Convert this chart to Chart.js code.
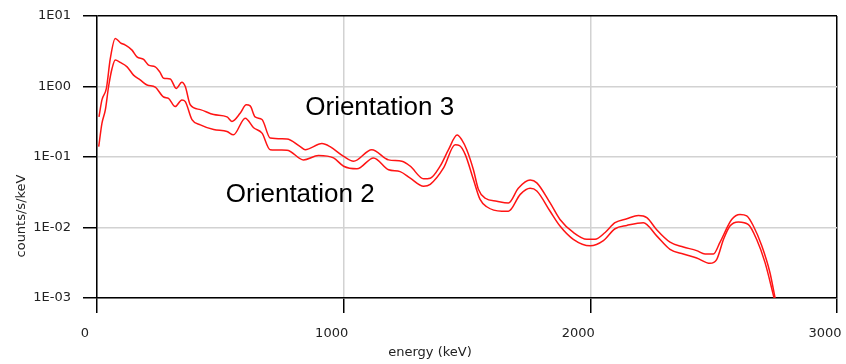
<!DOCTYPE html>
<html><head><meta charset="utf-8">
<script src="https://cdn.jsdelivr.net/npm/chart.js@4/dist/chart.umd.min.js"></script>
<style>html,body{margin:0;padding:0;background:#fff;overflow:hidden}</style>
</head><body>
<canvas id="c" width="846" height="364" style="width:846px;height:364px;display:block"></canvas>
<script>
// Orientation 3 (upper curve)
const energy3 = [8, 20, 38, 54, 74, 95, 115, 142, 162, 189, 209, 236, 255, 270, 297, 321, 344, 358, 378, 419, 473, 527, 547, 581, 605, 621, 641, 669, 702, 770, 824, 844, 912, 945, 1000, 1040, 1114, 1182, 1236, 1270, 1324, 1351, 1391, 1425, 1460, 1479, 1499, 1526, 1546, 1574, 1621, 1668, 1708, 1756, 1783, 1837, 1877, 1931, 1986, 2019, 2060, 2100, 2148, 2195, 2229, 2269, 2323, 2377, 2431, 2465, 2499, 2526, 2573, 2607, 2634, 2661, 2695, 2728, 2749];
const counts3 = [0.37, 0.645, 0.94, 2.5, 4.8, 4.17, 3.86, 3.28, 2.63, 2.42, 2.01, 1.9, 1.6, 1.31, 1.28, 0.94, 1.15, 1.0, 0.55, 0.47, 0.40, 0.37, 0.32, 0.42, 0.55, 0.53, 0.37, 0.34, 0.186, 0.18, 0.14, 0.127, 0.155, 0.14, 0.102, 0.087, 0.127, 0.091, 0.087, 0.074, 0.049, 0.05, 0.074, 0.127, 0.205, 0.175, 0.127, 0.066, 0.035, 0.026, 0.0236, 0.0223, 0.036, 0.047, 0.043, 0.0223, 0.013, 0.0085, 0.0068, 0.0068, 0.0085, 0.0117, 0.0133, 0.0148, 0.0138, 0.0093, 0.0062, 0.0053, 0.0047, 0.0042, 0.0042, 0.0062, 0.013, 0.0153, 0.0146, 0.0105, 0.0055, 0.0023, 0.001];
// Orientation 2 (lower curve)
const energy2 = [7, 20, 34, 47, 61, 74, 94, 122, 148, 175, 203, 236, 270, 290, 317, 344, 358, 385, 419, 473, 527, 553, 601, 635, 669, 702, 770, 837, 898, 959, 1000, 1054, 1121, 1182, 1229, 1270, 1324, 1351, 1405, 1452, 1470, 1493, 1526, 1553, 1580, 1641, 1668, 1716, 1756, 1783, 1837, 1877, 1931, 1999, 2053, 2100, 2148, 2215, 2269, 2323, 2377, 2431, 2485, 2512, 2540, 2566, 2600, 2641, 2674, 2708, 2745];
const counts2 = [0.14, 0.30, 0.47, 1.0, 1.8, 2.37, 2.2, 1.9, 1.45, 1.24, 1.05, 0.98, 0.71, 0.68, 0.52, 0.645, 0.61, 0.34, 0.286, 0.245, 0.23, 0.206, 0.355, 0.26, 0.218, 0.127, 0.125, 0.091, 0.105, 0.097, 0.074, 0.068, 0.097, 0.066, 0.062, 0.05, 0.0385, 0.041, 0.07, 0.149, 0.145, 0.108, 0.048, 0.025, 0.0197, 0.017, 0.017, 0.0295, 0.036, 0.033, 0.017, 0.0105, 0.0068, 0.0055, 0.0065, 0.0096, 0.0107, 0.0117, 0.0076, 0.0049, 0.0042, 0.0037, 0.0031, 0.0035, 0.0068, 0.0105, 0.012, 0.011, 0.0068, 0.0032, 0.001];

const xTickValues = [0, 1000, 2000, 3000];
const yTickValues = [0.001, 0.01, 0.1, 1, 10];
const yTickLabels = ['1E-03', '1E-02', '1E-01', '1E00', '1E01'];
const seriesLabels = ['Orientation 3', 'Orientation 2'];
const labelAnchorsE = [1146, 824];
const labelAnchorsV = [0.50, 0.0293];
const xTitle = 'energy (keV)';
const yTitle = 'counts/s/keV';

const toPts = (xs, ys) => xs.map((x, i) => ({x: x, y: ys[i]}));
const GRID = '#d2d2d2';
const TICKFONT = {family: 'DejaVu Sans', size: 13};

const textPlugin = {
  id: 'texts',
  afterDraw(chart) {
    const ctx = chart.ctx;
    const xs = chart.scales.x, ys = chart.scales.y;
    ctx.save();
    ctx.fillStyle = '#000';
    ctx.font = '26px "Liberation Sans", Arial, sans-serif';
    ctx.textAlign = 'center';
    ctx.textBaseline = 'middle';
    seriesLabels.forEach((t, i) => {
      ctx.fillText(t, xs.getPixelForValue(labelAnchorsE[i]), ys.getPixelForValue(labelAnchorsV[i]));
    });
    ctx.fillStyle = '#222';
    ctx.font = '13px "DejaVu Sans", sans-serif';
    ctx.fillText(xTitle, 430, 353);
    ctx.translate(22, 216);
    ctx.rotate(-Math.PI / 2);
    ctx.fillText(yTitle, 0, 0);
    ctx.restore();
  }
};

new Chart(document.getElementById('c'), {
  type: 'line',
  data: {
    datasets: [
      {label: seriesLabels[0], data: toPts(energy3, counts3)},
      {label: seriesLabels[1], data: toPts(energy2, counts2)}
    ]
  },
  options: {
    responsive: false,
    animation: false,
    devicePixelRatio: 1,
    layout: {padding: {left: 0, right: 9, top: 16, bottom: 0}},
    elements: {
      point: {radius: 0},
      line: {borderColor: '#ff1414', borderWidth: 1.5, cubicInterpolationMode: 'monotone', fill: false}
    },
    plugins: {legend: {display: false}, tooltip: {enabled: false}},
    scales: {
      x: {
        type: 'linear', min: 0, max: 3000,
        afterBuildTicks: s => { s.ticks = xTickValues.map(v => ({value: v})); },
        afterFit: s => { s.height = 66; s.paddingLeft = 0; s.paddingRight = 0; },
        ticks: {font: TICKFONT, color: '#222', padding: 13, labelOffset: -12, maxRotation: 0, autoSkip: false,
                callback: v => String(v)},
        grid: {color: c => (c.tick && c.tick.value === 3000) ? '#000' : GRID, lineWidth: 1.5, tickColor: '#000', tickLength: 15},
        border: {color: '#000', width: 1.5}
      },
      y: {
        type: 'logarithmic', min: 0.001, max: 10,
        afterBuildTicks: s => { s.ticks = yTickValues.map(v => ({value: v})); },
        afterFit: s => { s.width = 97; s.paddingTop = 0; s.paddingBottom = 0; },
        ticks: {font: TICKFONT, color: '#222', padding: 12, autoSkip: false,
                callback: v => { const i = yTickValues.indexOf(v); return i >= 0 ? yTickLabels[i] : ''; }},
        grid: {color: c => (c.tick && c.tick.value === 10) ? '#000' : GRID, lineWidth: 1.5, tickColor: '#000', tickLength: 14},
        border: {color: '#000', width: 1.5}
      }
    }
  },
  plugins: [textPlugin]
});
</script>
</body></html>
